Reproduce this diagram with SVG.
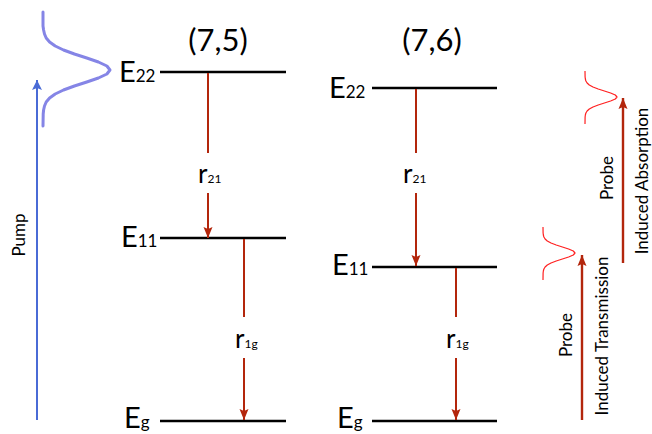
<svg xmlns="http://www.w3.org/2000/svg" width="652" height="434" viewBox="0 0 652 434">
  <style>
    text { font-family: Lato, "Liberation Sans", sans-serif; fill: #000; }
    .title { font-size: 31px; text-anchor: middle; }
    .elab { font-size: 29px; }
    .esub { font-size: 17px; }
    .rlab { font-size: 26px; }
    .rsub { font-size: 12px; }
    .side { font-size: 17px; text-anchor: middle; }
    .level { stroke: #000; stroke-width: 2.6; fill: none; }
    .decay { stroke: #b3260c; stroke-width: 2; fill: none; }
    .decayh { stroke: #b3260c; stroke-width: 2; fill: none; marker-end: url(#redHead); }
    .probe { stroke: #b3260c; stroke-width: 2.4; fill: none; marker-end: url(#redHead); }
    .pump { stroke: #4a6bd6; stroke-width: 2; fill: none; marker-end: url(#blueHead); }
    .gpump { stroke: #8585e6; stroke-width: 3; fill: none; stroke-linejoin: round; stroke-linecap: round; }
    .gprobe { stroke: #ff2020; stroke-width: 1.2; fill: none; stroke-linejoin: round; }
  </style>
  <defs>
    <marker id="redHead" markerUnits="userSpaceOnUse" markerWidth="12" markerHeight="10" refX="11" refY="5" orient="auto">
      <path d="M0,0.5 L11,5 L0,9.5 L2,5 z" fill="#b3260c"/>
    </marker>
    <marker id="blueHead" markerUnits="userSpaceOnUse" markerWidth="12" markerHeight="11" refX="10" refY="5.5" orient="auto">
      <path d="M0,0.5 L10,5.5 L0,10.5 L2,5.5 z" fill="#4a6bd6"/>
    </marker>
    <path id="probeGauss" class="gprobe" d="M0,-26 L0.1,-20 L0.35,-18 L0.9,-16 L2.1,-14 L4.3,-12 L8,-10 L13.2,-8 L19.4,-6 L25.6,-4 L30.3,-2 L32,0 L30.3,2 L25.6,4 L19.4,6 L13.2,8 L8,10 L4.3,12 L2.1,14 L0.9,16 L0.35,18 L0.1,20 L0,27"/>
  </defs>

  <!-- Pump -->
  <g id="pump">
    <path class="gpump" d="M43,12 L43,26 L43.6,30 L44.5,34 L46.2,38 L49.6,42 L55.2,46 L63.5,50 L74.4,54 L86.8,58 L98.4,62 L106.9,66 L110,70 L106.9,74 L98.4,78 L86.8,82 L74.4,86 L63.5,90 L55.2,94 L49.6,98 L46.2,102 L44.5,106 L43.6,110 L43.2,114 L43,126"/>
    <line class="pump" x1="37" y1="420" x2="37" y2="80"/>
    <text class="side" font-size="18" transform="translate(25,235) rotate(-90)" x="0" y="0">Pump</text>
  </g>

  <!-- (7,5) -->
  <g id="title75"><text class="title" x="218" y="51">(7,5)</text></g>
  <g id="E22_75">
    <line class="level" x1="160" y1="72" x2="286" y2="72"/>
    <text class="elab" x="119" y="82">E<tspan class="esub">22</tspan></text>
  </g>
  <g id="E11_75">
    <line class="level" x1="160" y1="238" x2="286" y2="238"/>
    <text class="elab" x="121" y="247">E<tspan class="esub">11</tspan></text>
  </g>
  <g id="Eg_75">
    <line class="level" x1="160" y1="421" x2="286" y2="421"/>
    <text class="elab" x="124" y="428">E<tspan class="esub">g</tspan></text>
  </g>

  <!-- (7,6) -->
  <g id="title76"><text class="title" x="432" y="51">(7,6)</text></g>
  <g id="E22_76">
    <line class="level" x1="372" y1="88" x2="497" y2="88"/>
    <text class="elab" x="329" y="98">E<tspan class="esub">22</tspan></text>
  </g>
  <g id="E11_76">
    <line class="level" x1="372" y1="267" x2="497" y2="267"/>
    <text class="elab" x="332" y="275">E<tspan class="esub">11</tspan></text>
  </g>
  <g id="Eg_76">
    <line class="level" x1="372" y1="421" x2="497" y2="421"/>
    <text class="elab" x="337" y="428">E<tspan class="esub">g</tspan></text>
  </g>

  <!-- Probe gaussians -->
  <g id="probeAbsorption">
    <use href="#probeGauss" transform="translate(585,97)"/>
    <text class="side" transform="translate(613,178) rotate(-90)">Probe</text>
    <text class="side" transform="translate(648,181) rotate(-90)">Induced Absorption</text>
  </g>
  <g id="probeTransmission">
    <use href="#probeGauss" transform="translate(543,253)"/>
    <text class="side" transform="translate(572,335) rotate(-90)">Probe</text>
    <text class="side" transform="translate(608,336) rotate(-90)">Induced Transmission</text>
  </g>

  <!-- Connectors -->
  <g id="connectors">
    <line class="decay" x1="208" y1="73" x2="208" y2="153"/>
    <line class="decayh" x1="208" y1="193" x2="208" y2="238"/>
    <text class="rlab" x="198" y="183">r<tspan class="rsub">21</tspan></text>
    <line class="decay" x1="244" y1="239" x2="244" y2="317"/>
    <line class="decayh" x1="244" y1="358" x2="244" y2="420"/>
    <text class="rlab" x="235" y="348">r<tspan class="rsub">1g</tspan></text>

    <line class="decay" x1="416" y1="89" x2="416" y2="153"/>
    <line class="decayh" x1="416" y1="193" x2="416" y2="266"/>
    <text class="rlab" x="403" y="183">r<tspan class="rsub">21</tspan></text>
    <line class="decay" x1="456" y1="268" x2="456" y2="317"/>
    <line class="decayh" x1="456" y1="358" x2="456" y2="420"/>
    <text class="rlab" x="446" y="348">r<tspan class="rsub">1g</tspan></text>

    <line class="probe" x1="623" y1="263" x2="623" y2="98"/>
    <line class="probe" x1="582" y1="420" x2="582" y2="255"/>
  </g>
</svg>
